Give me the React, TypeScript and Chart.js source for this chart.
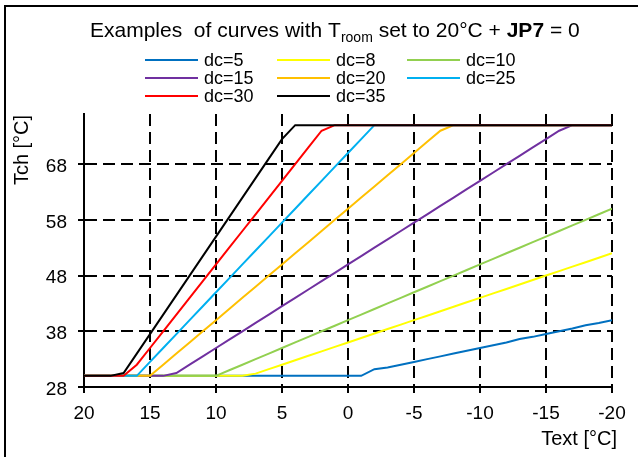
import React, { useEffect, useRef } from "react";
import { Chart, registerables } from "chart.js";

Chart.register(...registerables);

// Outdoor temperature (x), from 20 down to -20
const textTemps = [20, 19, 18, 17, 16, 15, 14, 13, 12, 11, 10, 9, 8, 7, 6, 5, 4, 3, 2, 1, 0,
  -1, -2, -3, -4, -5, -6, -7, -8, -9, -10, -11, -12, -13, -14, -15, -16, -17, -18, -19, -20];

const dcLabels = ["dc=5", "dc=8", "dc=10", "dc=15", "dc=20", "dc=25", "dc=30", "dc=35"];

const dc5 = [30, 30, 30, 30, 30, 30, 30, 30, 30, 30, 30, 30, 30, 30, 30, 30, 30, 30, 30, 30, 30,
  30, 31.2, 31.5, 32, 32.5, 33, 33.5, 34, 34.5, 35, 35.5, 36, 36.6, 37, 37.5, 38, 38.5, 39.1, 39.5, 40];
const dc8 = [30, 30, 30, 30, 30, 30, 30, 30, 30, 30, 30, 30, 30,
  30.4, 31.2, 32, 32.8, 33.6, 34.4, 35.2, 36, 36.8, 37.6, 38.4, 39.2, 40, 40.8, 41.6, 42.4, 43.2,
  44, 44.8, 45.6, 46.4, 47.2, 48, 48.8, 49.6, 50.4, 51.2, 52];
const dc10 = [30, 30, 30, 30, 30, 30, 30, 30, 30, 30, 30,
  31, 32, 33, 34, 35, 36, 37, 38, 39, 40, 41, 42, 43, 44, 45, 46, 47, 48, 49, 50,
  51, 52, 53, 54, 55, 56, 57, 58, 59, 60];
const dc15 = [30, 30, 30, 30, 30, 30, 30,
  30.5, 32, 33.5, 35, 36.5, 38, 39.5, 41, 42.5, 44, 45.5, 47, 48.5, 50, 51.5, 53, 54.5, 56, 57.5,
  59, 60.5, 62, 63.5, 65, 66.5, 68, 69.5, 71, 72.5, 74, 75, 75, 75, 75];
const dc20 = [30, 30, 30, 30, 30, 30,
  32, 34, 36, 38, 40, 42, 44, 46, 48, 50, 52, 54, 56, 58, 60, 62, 64, 66, 68, 70, 72, 74,
  75, 75, 75, 75, 75, 75, 75, 75, 75, 75, 75, 75, 75];
const dc25 = [30, 30, 30, 30, 30,
  32.5, 35, 37.5, 40, 42.5, 45, 47.5, 50, 52.5, 55, 57.5, 60, 62.5, 65, 67.5, 70, 72.5,
  75, 75, 75, 75, 75, 75, 75, 75, 75, 75, 75, 75, 75, 75, 75, 75, 75, 75, 75];
const dc30 = [30, 30, 30, 30,
  32, 35, 38, 41, 44, 47, 50, 53, 56, 59, 62, 65, 68, 71, 74,
  75, 75, 75, 75, 75, 75, 75, 75, 75, 75, 75, 75, 75, 75, 75, 75, 75, 75, 75, 75, 75, 75, 75];
const dc35 = [30, 30, 30,
  30.5, 34, 37.5, 41, 44.5, 48, 51.5, 55, 58.5, 62, 65.5, 69, 72.5,
  75, 75, 75, 75, 75, 75, 75, 75, 75, 75, 75, 75, 75, 75, 75, 75, 75, 75, 75, 75, 75, 75, 75, 75, 75];

const seriesValues = [dc5, dc8, dc10, dc15, dc20, dc25, dc30, dc35];
const seriesColors = ["#0070C0", "#FFFF00", "#92D050", "#7030A0", "#FFC000", "#00B0F0", "#FF0000", "#000000"];

const yTickValues = [28, 38, 48, 58, 68];
const xTickStep = 5;

const titleParts = [
  { text: "Examples  of curves with T", size: 21, weight: "normal", dy: 0 },
  { text: "room", size: 14, weight: "normal", dy: 5 },
  { text: " set to 20°C + ", size: 21, weight: "normal", dy: 0 },
  { text: "JP7", size: 21, weight: "bold", dy: 0 },
  { text: " = 0", size: 21, weight: "normal", dy: 0 },
];
const yAxisTitle = "Tch [°C]";
const xAxisTitle = "Text [°C]";

const FONT = "'Liberation Sans', Arial, sans-serif";

const decorPlugin = {
  id: "decor",
  afterDraw(chart: any) {
    const ctx = chart.ctx as CanvasRenderingContext2D;
    ctx.save();
    // outer frame
    ctx.strokeStyle = "#000";
    ctx.lineWidth = 2;
    ctx.beginPath();
    ctx.moveTo(5, 457);
    ctx.lineTo(5, 6);
    ctx.lineTo(638, 6);
    ctx.stroke();

    // title
    ctx.fillStyle = "#000";
    ctx.textBaseline = "alphabetic";
    ctx.textAlign = "left";
    let x = 90;
    for (const p of titleParts) {
      ctx.font = `${p.weight} ${p.size}px ${FONT}`;
      ctx.fillText(p.text, x, 37 + p.dy);
      x += ctx.measureText(p.text).width;
    }

    // legend
    const colX = [145, 277, 407];
    const rowY = [60, 78, 96];
    ctx.font = `18px ${FONT}`;
    ctx.textBaseline = "middle";
    chart.data.datasets.forEach((ds: any, k: number) => {
      const cx = colX[k % 3];
      const cy = rowY[Math.floor(k / 3)];
      ctx.strokeStyle = ds.borderColor;
      ctx.lineWidth = 2;
      ctx.beginPath();
      ctx.moveTo(cx, cy);
      ctx.lineTo(cx + 53, cy);
      ctx.stroke();
      ctx.fillStyle = "#000";
      ctx.fillText(ds.label, cx + 59, cy + 1);
    });

    // axis titles
    ctx.font = `20px ${FONT}`;
    ctx.textBaseline = "alphabetic";
    ctx.textAlign = "right";
    ctx.fillText(xAxisTitle, 617, 445);
    ctx.save();
    ctx.translate(28, 150);
    ctx.rotate(-Math.PI / 2);
    ctx.textAlign = "center";
    ctx.fillText(yAxisTitle, 0, 0);
    ctx.restore();
    ctx.restore();
  },
};

export default function App() {
  const ref = useRef<HTMLCanvasElement | null>(null);
  useEffect(() => {
    if (!ref.current) return;
    const tickFont = { family: FONT, size: 19 };
    const chart = new Chart(ref.current, {
      type: "line",
      data: {
        datasets: seriesValues.map((vals, k) => ({
          label: dcLabels[k],
          data: textTemps.map((t, i) => ({ x: t, y: vals[i] })),
          borderColor: seriesColors[k],
          backgroundColor: seriesColors[k],
          borderWidth: 2,
          pointRadius: 0,
          fill: false,
          tension: 0,
          order: seriesValues.length - k,
        })),
      },
      options: {
        animation: false,
        responsive: false,
        events: [],
        layout: { padding: { top: 114, right: 26, left: 0, bottom: 0 } },
        plugins: {
          legend: { display: false },
          title: { display: false },
          tooltip: { enabled: false },
        },
        scales: {
          x: {
            type: "linear",
            reverse: true,
            min: -20,
            max: 20,
            ticks: { stepSize: xTickStep, font: tickFont, color: "#000", padding: 9, maxRotation: 0, autoSkip: false },
            grid: { color: "#000", lineWidth: 2, tickLength: 6 },
            border: { color: "#000", width: 2, dash: [12, 6] },
            afterFit: (s: any) => { s.height = 70; },
          },
          y: {
            type: "linear",
            min: 28,
            max: 77,
            afterBuildTicks: (s: any) => { s.ticks = yTickValues.map((v) => ({ value: v })); },
            ticks: { font: tickFont, color: "#000", padding: 11, labelOffset: 2.5 },
            grid: { color: "#000", lineWidth: 2, tickLength: 6 },
            border: { color: "#000", width: 2, dash: [12, 6] },
            afterFit: (s: any) => { s.width = 84; },
          },
        },
      } as any,
      plugins: [decorPlugin],
    });
    return () => chart.destroy();
  }, []);
  return (
    <div style={{ position: "absolute", left: 0, top: 0, width: 638, height: 457 }}>
      <canvas ref={ref} width={638} height={457} style={{ display: "block" }} />
    </div>
  );
}
